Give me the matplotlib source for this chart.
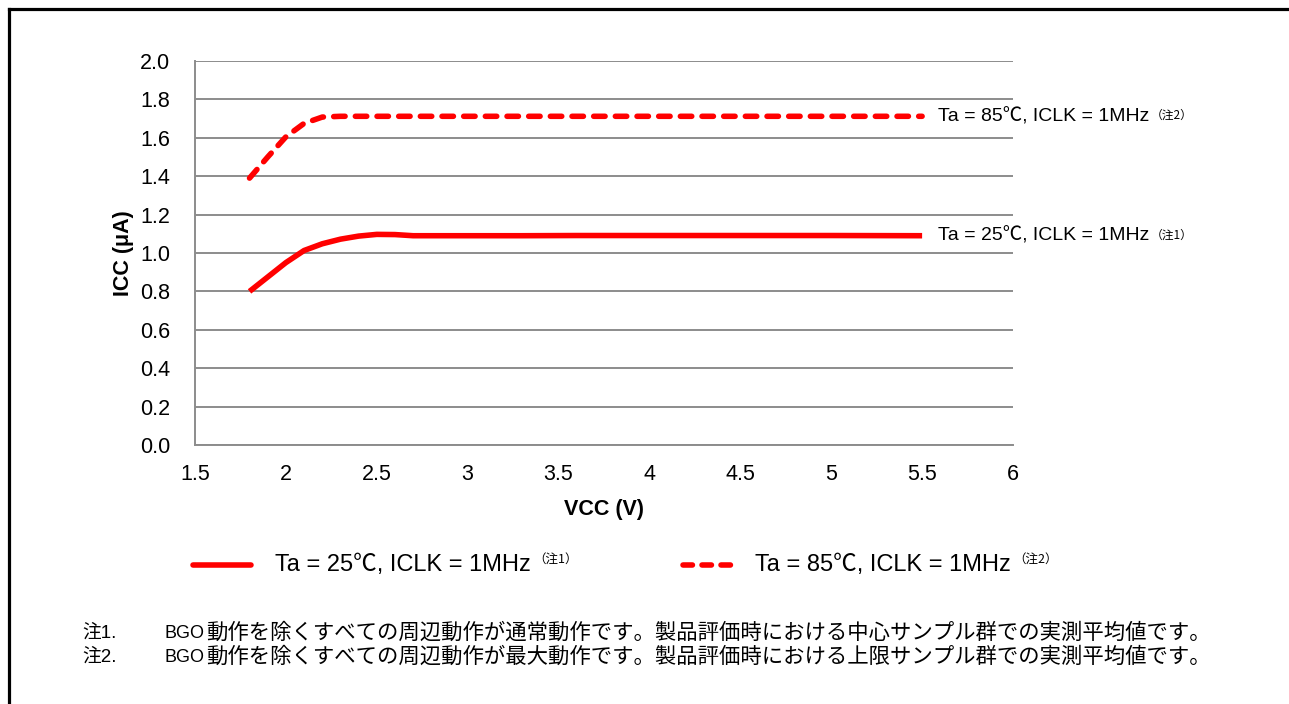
import matplotlib
matplotlib.use("Agg")
import matplotlib.pyplot as plt
from matplotlib.lines import Line2D

# ---- data ----
vcc = [1.8, 1.9, 2.0, 2.1, 2.2, 2.3, 2.4, 2.5, 2.6, 2.7, 3.0, 3.3, 3.6, 4.0, 4.5, 5.0, 5.5]
icc_25 = [0.80, 0.875, 0.95, 1.013, 1.048, 1.072, 1.088, 1.097, 1.096, 1.090, 1.090, 1.090,
          1.091, 1.091, 1.091, 1.091, 1.090]
icc_85 = [1.39, 1.50, 1.605, 1.675, 1.708, 1.712, 1.712, 1.712, 1.712, 1.712, 1.712, 1.712,
          1.712, 1.712, 1.712, 1.712, 1.712]
series_labels = ["Ta = 25℃, ICLK = 1MHz", "Ta = 85℃, ICLK = 1MHz"]
series_notes = ["（注1）", "（注2）"]
x_ticks = [1.5, 2, 2.5, 3, 3.5, 4, 4.5, 5, 5.5, 6]
x_ticklabels = ["1.5", "2", "2.5", "3", "3.5", "4", "4.5", "5", "5.5", "6"]
y_ticks = [0.0, 0.2, 0.4, 0.6, 0.8, 1.0, 1.2, 1.4, 1.6, 1.8, 2.0]
note_marks = ["注1.", "注2."]
note_heads = ["BGO", "BGO"]
note_bodies = [
    "動作を除くすべての周辺動作が通常動作です。製品評価時における中心サンプル群での実測平均値です。",
    "動作を除くすべての周辺動作が最大動作です。製品評価時における上限サンプル群での実測平均値です。",
]

FAM = ["Liberation Sans", "Noto Sans CJK JP", "DejaVu Sans"]
JFAM = ["Noto Sans CJK JP", "Liberation Sans", "DejaVu Sans"]
plt.rcParams["font.family"] = FAM

W, H = 1289, 704
fig = plt.figure(figsize=(W / 100, H / 100), dpi=100)

def fx(px):
    return px / W

def fy(py):
    return 1 - py / H

ax = fig.add_axes([fx(195), fy(445), fx(1013) - fx(195), fy(61) - fy(445)])
RED = "#ff0000"
GRID = "#8c8c8c"

lw = 4.0
ax.plot(vcc, icc_25, color=RED, lw=lw, solid_capstyle="butt", solid_joinstyle="round", zorder=3)
ax.plot(vcc, icc_85, color=RED, lw=lw, dashes=(2.05, 1.85), dash_capstyle="round", zorder=3)

ax.set_xlim(1.5, 6)
ax.set_ylim(0, 2.0)
ax.set_xticks(x_ticks)
ax.set_xticklabels(x_ticklabels)
ax.set_yticks(y_ticks)
ax.set_yticklabels([f"{v:.1f}" for v in y_ticks])
ax.tick_params(axis="both", length=0, labelsize=15.5, colors="black")
ax.tick_params(axis="x", pad=14)
ax.tick_params(axis="y", pad=18)
ax.yaxis.grid(True, color=GRID, lw=1.4)
ax.set_axisbelow(True)
for s in ["top", "right"]:
    ax.spines[s].set_visible(False)
for s in ["left", "bottom"]:
    ax.spines[s].set_color(GRID)
    ax.spines[s].set_linewidth(1.4)

fig.text(fx(604), fy(510), "VCC (V)", fontsize=15.5, fontweight="bold", ha="center", va="center")
fig.text(fx(123), fy(253), "ICC (μA)", fontsize=15.5, fontweight="bold", ha="center", va="center",
         rotation=90)

# right-side labels
for yv, lab, note in [(icc_85[-1], series_labels[1], series_notes[1]),
                      (icc_25[-1], series_labels[0], series_notes[0])]:
    t = ax.annotate(lab, xy=(fx(938), yv), xycoords=("figure fraction", "data"),
                    fontsize=14, ha="left", va="center", annotation_clip=False)
    ax.annotate(note, xy=(1, 1), xycoords=t, xytext=(1, -1), textcoords="offset points",
                fontsize=8.5, family=JFAM, ha="left", va="top")

# legend
ly = fy(565)
fig.add_artist(Line2D([fx(193), fx(251)], [ly, ly], color=RED, lw=lw, solid_capstyle="round"))
fig.add_artist(Line2D([fx(683), fx(731)], [ly, ly], color=RED, lw=lw, dashes=(1.7, 1.72),
                      dash_capstyle="round"))
for x0, lab, note in [(275, series_labels[0], series_notes[0]), (755, series_labels[1], series_notes[1])]:
    t = fig.text(fx(x0), ly, lab, fontsize=17, ha="left", va="center")
    ax.annotate(note, xy=(1, 1), xycoords=t, xytext=(2, 1), textcoords="offset points",
                fontsize=9, family=JFAM, ha="left", va="top")

# notes
for i in range(len(note_marks)):
    yy = fy(633 + 24 * i)
    fig.text(fx(82), yy, note_marks[i], fontsize=13.5, ha="left", va="center")
    th = fig.text(fx(165), yy, note_heads[i], fontsize=13, ha="left", va="center")
    ax.annotate(note_bodies[i], xy=(1, 0.5), xycoords=th, xytext=(1, 0), textcoords="offset points",
                fontsize=15.4, family=JFAM, ha="left", va="center")

# frame (top and left)
fig.add_artist(Line2D([fx(8.5), 1], [fy(8.5), fy(8.5)], color="black", lw=2.3))
fig.add_artist(Line2D([fx(8.5), fx(8.5)], [fy(8.5), 0], color="black", lw=2.3))

fig.savefig("out.png", dpi=100)
